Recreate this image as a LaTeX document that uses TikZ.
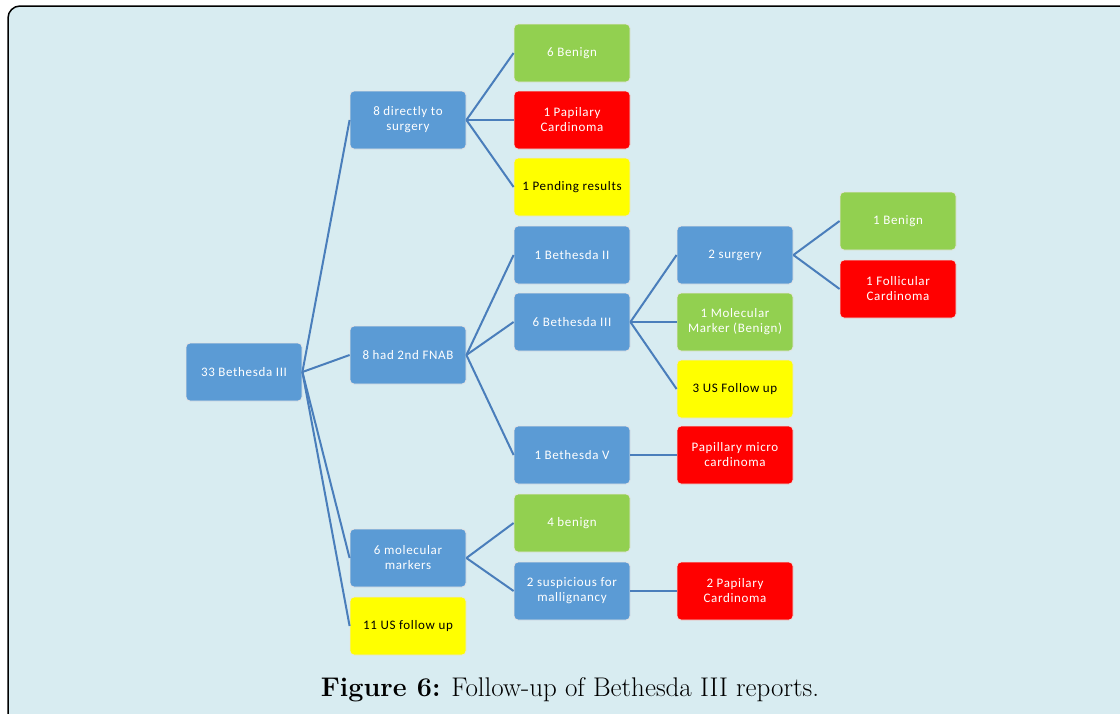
\documentclass[tikz,border=0pt]{standalone}
\usepackage{fontspec}
\newfontfamily\boxfont[LetterSpace=5]{Carlito}
\definecolor{paneblue}{RGB}{216,236,241}
\definecolor{boxblue}{RGB}{91,155,213}
\definecolor{boxgreen}{RGB}{146,208,80}
\definecolor{boxred}{RGB}{255,0,0}
\definecolor{boxyellow}{RGB}{255,255,0}
\definecolor{linkblue}{RGB}{74,126,187}
\tikzset{
  box/.style={draw=white!80!gray, line width=0.8pt, rounded corners=4pt,
    minimum width=116pt, minimum height=58pt,
    align=center, inner sep=0pt, text=white,
    font={\boxfont\fontsize{13}{15}\selectfont}},
  bluebox/.style={box, fill=boxblue},
  greenbox/.style={box, fill=boxgreen},
  redbox/.style={box, fill=boxred},
  yellowbox/.style={box, fill=boxyellow, text=black},
  link/.style={draw=linkblue, line width=2pt},
}

\begin{document}
\begin{tikzpicture}[x=1pt,y=-1pt]
    \useasboundingbox (0,0) rectangle (1120,713);
    \clip (0,0) rectangle (1120,713);
    \fill [white] (0,0) rectangle (1120,713);
    \draw [fill=paneblue, line width=1.5pt, rounded corners=12pt] (8,6) rectangle (1140,725);

    % first level
    \node [bluebox] (root) at (244,372) {33 Bethesda III};
    \node [bluebox] (direct) at (408,120) {8 directly to\\surgery};
    \node [bluebox] (fnab) at (408,355) {8 had 2nd FNAB};
    \node [bluebox] (markers) at (408,558) {6 molecular\\markers};
    \node [yellowbox] (usfollow) at (408,626) {11 US follow up};

    % second level
    \node [greenbox] (benignA) at (572,53) {6 Benign};
    \node [redbox] (papA) at (572,120) {1 Papilary\\Cardinoma};
    \node [yellowbox] (pending) at (572,187) {1 Pending results};
    \node [bluebox] (bethII) at (572,255) {1 Bethesda II};
    \node [bluebox] (bethIII) at (572,322) {6 Bethesda III};
    \node [bluebox] (bethV) at (572,455) {1 Bethesda V};
    \node [greenbox] (benignB) at (572,523) {4 benign};
    \node [bluebox] (suspic) at (572,591) {2 suspicious for\\mallignancy};

    % third level
    \node [bluebox] (surgery) at (735,255) {2 surgery};
    \node [greenbox] (molben) at (735,322) {1 Molecular\\Marker (Benign)};
    \node [yellowbox] (usthree) at (735,389) {3 US Follow up};
    \node [redbox] (micro) at (735,455) {Papillary micro\\cardinoma};
    \node [redbox] (papB) at (735,591) {2 Papilary\\Cardinoma};

    % fourth level
    \node [greenbox] (benignC) at (898,221) {1 Benign};
    \node [redbox] (follic) at (898,289) {1 Follicular\\Cardinoma};

    \draw [link] (root.east) -- (direct.west);
    \draw [link] (root.east) -- (fnab.west);
    \draw [link] (root.east) -- (markers.west);
    \draw [link] (root.east) -- (usfollow.west);

    \draw [link] (direct.east) -- (benignA.west);
    \draw [link] (direct.east) -- (papA.west);
    \draw [link] (direct.east) -- (pending.west);

    \draw [link] (fnab.east) -- (bethII.west);
    \draw [link] (fnab.east) -- (bethIII.west);
    \draw [link] (fnab.east) -- (bethV.west);

    \draw [link] (markers.east) -- (benignB.west);
    \draw [link] (markers.east) -- (suspic.west);

    \draw [link] (bethIII.east) -- (surgery.west);
    \draw [link] (bethIII.east) -- (molben.west);
    \draw [link] (bethIII.east) -- (usthree.west);
    \draw [link] (bethV.east) -- (micro.west);
    \draw [link] (suspic.east) -- (papB.west);

    \draw [link] (surgery.east) -- (benignC.west);
    \draw [link] (surgery.east) -- (follic.west);

    \node [anchor=base] (caption) at (570,696) {\fontsize{27}{30}\selectfont\textbf{Figure 6:} Follow-up of Bethesda III reports.};
\end{tikzpicture}
\end{document}
